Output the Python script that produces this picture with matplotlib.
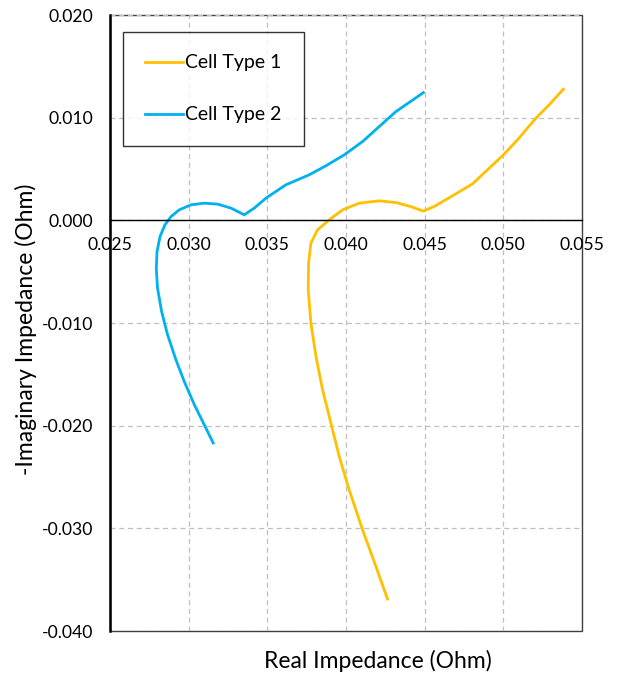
import matplotlib
matplotlib.use("Agg")
import matplotlib.pyplot as plt
from matplotlib.patches import Rectangle

plt.rcParams['font.family'] = ['Lato', 'DejaVu Sans']

# Cell Type 1 (yellow)
re1 = [0.04264, 0.04190, 0.04105, 0.04020, 0.03957, 0.03904, 0.03851, 0.03809, 0.03777,
       0.03760, 0.03762, 0.03777, 0.03819, 0.03893, 0.03978, 0.04084, 0.04211, 0.04317,
       0.04412, 0.04490, 0.04560, 0.04687, 0.04804, 0.04899, 0.05001, 0.05090, 0.05207,
       0.05291, 0.05382]
im1 = [-0.03689, -0.03371, -0.03014, -0.02624, -0.02300, -0.01975, -0.01650, -0.01326, -0.01001,
       -0.00677, -0.00417, -0.00222, -0.00093, 0.00005, 0.00102, 0.00167, 0.00190, 0.00173,
       0.00134, 0.00090, 0.00134, 0.00248, 0.00355, 0.00492, 0.00638, 0.00784, 0.00995,
       0.01125, 0.01278]

# Cell Type 2 (blue)
re2 = [0.03156, 0.03099, 0.03036, 0.02972, 0.02919, 0.02866, 0.02828, 0.02802, 0.02794,
       0.02799, 0.02818, 0.02849, 0.02888, 0.02940, 0.03015, 0.03099, 0.03184, 0.03269,
       0.03353, 0.03417, 0.03491, 0.03618, 0.03766, 0.03872, 0.03989, 0.04105, 0.04211,
       0.04317, 0.04492]
im2 = [-0.02169, -0.01991, -0.01796, -0.01570, -0.01358, -0.01115, -0.00888, -0.00660, -0.00465,
       -0.00304, -0.00158, -0.00044, 0.00037, 0.00102, 0.00151, 0.00167, 0.00158, 0.00119,
       0.00054, 0.00119, 0.00216, 0.00346, 0.00443, 0.00531, 0.00638, 0.00767, 0.00913,
       0.01059, 0.01244]

xticks = [0.025, 0.030, 0.035, 0.040, 0.045, 0.050, 0.055]
yticks = [-0.040, -0.030, -0.020, -0.010, 0.000, 0.010, 0.020]

fig = plt.figure(figsize=(6.17, 6.77), dpi=100)
ax = fig.add_axes([110/617, 46/677, 472/617, 616/677])

ax.plot(re1, im1, color='#FFC000', lw=2, label='Cell Type 1', solid_joinstyle='round')
ax.plot(re2, im2, color='#00B0F0', lw=2, label='Cell Type 2', solid_joinstyle='round')

ax.set_xlim(0.025, 0.055)
ax.set_ylim(-0.040, 0.020)
ax.set_xticks(xticks)
ax.set_yticks(yticks)
ax.set_xticklabels([f"{v:.3f}" for v in xticks])
ax.set_yticklabels([f"{v:.3f}" for v in yticks])
ax.tick_params(axis='both', length=0, labelsize=12.7, colors='#000000')
ax.tick_params(axis='x', pad=12)
ax.tick_params(axis='y', pad=12)

ax.grid(True, color='#BFBFBF', linestyle=(0, (4, 3)), lw=0.9)
ax.set_axisbelow(True)

for s in ['top', 'right']:
    ax.spines[s].set_visible(False)
ax.spines['bottom'].set_position(('data', 0))
ax.spines['bottom'].set_linewidth(1.0)
ax.spines['left'].set_linewidth(1.8)
ax.add_patch(Rectangle((0, 0), 1, 1, transform=ax.transAxes, fill=False,
                       lw=1.0, edgecolor='#404040', clip_on=False, zorder=0.5))

ax.set_xlabel('Real Impedance (Ohm)', fontsize=16.5, va='center')
ax.xaxis.set_label_coords(0.567, -0.048)
ax.set_ylabel('-Imaginary Impedance (Ohm)', fontsize=16.5, va='center', ha='center')
ax.yaxis.set_label_coords(-0.178, 0.489)

leg = ax.legend(loc='upper left', bbox_to_anchor=(13/472, 1 - 17/616), fontsize=14,
                frameon=True, fancybox=False, edgecolor='#000000', handlelength=1.95,
                handletextpad=0.1, labelspacing=1.8, borderpad=1.15, borderaxespad=0)
leg.get_frame().set_linewidth(1.0)

fig.savefig('out.png', dpi=100)
